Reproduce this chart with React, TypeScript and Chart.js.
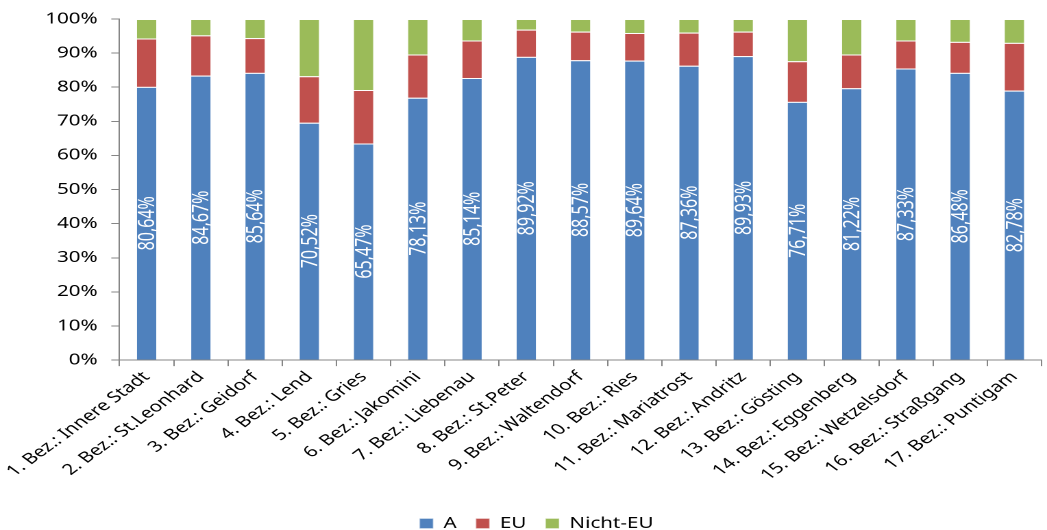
import React, { useEffect, useRef } from "react";
import { Chart, registerables } from "chart.js";

Chart.register(...registerables);

const categories = [
  "1. Bez.: Innere Stadt",
  "2. Bez.: St.Leonhard",
  "3. Bez.: Geidorf",
  "4. Bez.: Lend",
  "5. Bez.: Gries",
  "6. Bez.: Jakomini",
  "7. Bez.: Liebenau",
  "8. Bez.: St.Peter",
  "9. Bez.: Waltendorf",
  "10. Bez.: Ries",
  "11. Bez.: Mariatrost",
  "12. Bez.: Andritz",
  "13. Bez.: Gösting",
  "14. Bez.: Eggenberg",
  "15. Bez.: Wetzelsdorf",
  "16. Bez.: Straßgang",
  "17. Bez.: Puntigam",
];

const seriesA = [80.1, 83.4, 84.2, 69.6, 63.5, 76.9, 82.7, 88.9, 87.9, 87.8, 86.3, 89.1, 75.7, 79.7, 85.5, 84.2, 79.0];
const seriesEU = [14.2, 11.8, 10.2, 13.6, 15.7, 12.7, 11.0, 8.0, 8.4, 8.1, 9.7, 7.2, 11.9, 9.9, 8.2, 9.1, 14.0];
const seriesNichtEU = [5.7, 4.8, 5.6, 16.8, 20.8, 10.4, 6.3, 3.1, 3.7, 4.1, 4.0, 3.7, 12.4, 10.4, 6.3, 6.7, 7.0];

const labelsA = [
  "80,64%", "84,67%", "85,64%", "70,52%", "65,47%", "78,13%", "85,14%", "89,92%", "88,57%",
  "89,64%", "87,36%", "89,93%", "76,71%", "81,22%", "87,33%", "86,48%", "82,78%",
];

const yTicks = [0, 10, 20, 30, 40, 50, 60, 70, 80, 90, 100];

const W = 1047;
const H = 530;
const S = 1.37; // horizontal stretch of the whole picture
const LW = Math.round(W / S);

const FONT = '"Noto Sans", "DejaVu Sans", sans-serif';
const AXIS = "#868686";

const barLabels = {
  id: "barLabels",
  afterDatasetsDraw(chart: any) {
    const meta = chart.getDatasetMeta(0);
    const ctx = chart.ctx;
    ctx.save();
    ctx.fillStyle = "#ffffff";
    ctx.font = `16px ${FONT}`;
    ctx.textAlign = "center";
    ctx.textBaseline = "middle";
    meta.data.forEach((bar: any, i: number) => {
      const p = bar.getProps(["x", "y", "base"], true);
      ctx.save();
      ctx.translate(p.x, (p.y + p.base) / 2);
      ctx.rotate(-Math.PI / 2);
      ctx.fillText(labelsA[i], 0, 1);
      ctx.restore();
    });
    ctx.restore();
  },
};

export default function App() {
  const ref = useRef<HTMLCanvasElement | null>(null);

  useEffect(() => {
    const canvas = ref.current;
    if (!canvas) return;
    const chart = new Chart(canvas, {
      type: "bar",
      data: {
        labels: categories,
        datasets: [
          { label: "A", data: seriesA, backgroundColor: "#4F81BD", borderColor: "rgba(255,255,255,0.35)", borderWidth: 1 },
          { label: "EU", data: seriesEU, backgroundColor: "#C0504D", borderColor: "rgba(255,255,255,0.35)", borderWidth: 1 },
          { label: "Nicht-EU", data: seriesNichtEU, backgroundColor: "#9BBB59", borderColor: "rgba(255,255,255,0.35)", borderWidth: 1 },
        ],
      },
      options: {
        animation: false,
        responsive: false,
        devicePixelRatio: 2,
        layout: { padding: { left: 23, right: 4, top: 7, bottom: -11 } },
        datasets: { bar: { barPercentage: 0.405, categoryPercentage: 1 } },
        plugins: {
          legend: {
            position: "bottom",
            labels: {
              boxWidth: 10,
              boxHeight: 10,
              padding: 14,
              color: "#000",
              font: { family: FONT, size: 15 },
            },
          },
          tooltip: { enabled: false },
        },
        scales: {
          x: {
            stacked: true,
            grid: { display: true, drawOnChartArea: false, drawTicks: true, tickLength: 6, color: AXIS },
            border: { display: true, color: AXIS },
            afterFit: (axis: any) => {
              axis.height += 16;
            },
            ticks: {
              autoSkip: false,
              minRotation: 45,
              maxRotation: 45,
              padding: 2,
              color: "#000",
              font: { family: FONT, size: 15 },
            },
          },
          y: {
            stacked: true,
            min: 0,
            max: 100,
            afterBuildTicks: (axis: any) => {
              axis.ticks = yTicks.map((v) => ({ value: v }));
            },
            grid: { display: true, drawOnChartArea: false, drawTicks: true, tickLength: 6, color: AXIS },
            border: { display: true, color: AXIS },
            ticks: {
              padding: 10,
              color: "#000",
              font: { family: FONT, size: 15 },
              callback: (v: any) => `${v}%`,
            },
          },
        },
      },
      plugins: [barLabels],
    });
    return () => chart.destroy();
  }, []);

  return (
    <div style={{ position: "absolute", left: 0, top: 0, width: W, height: H, background: "#fff" }}>
      <canvas
        ref={ref}
        width={LW}
        height={H}
        style={{ display: "block", width: `${W}px`, height: `${H}px` }}
      />
    </div>
  );
}
